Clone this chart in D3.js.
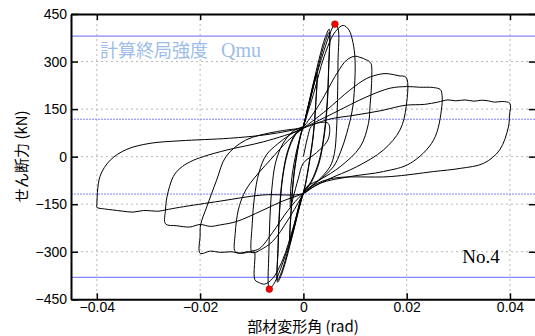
<!DOCTYPE html>
<html>
<head>
<meta charset="utf-8">
<script src="https://cdn.jsdelivr.net/npm/d3@7"></script>
<style>
  body { margin: 0; background: #fff; }
  .tick text { font-family: "Liberation Sans", Arial, sans-serif; font-size: 14px; fill: #000; }
</style>
</head>
<body>
<div id="chart"></div>
<script>
// tick values
var xTicks = [-0.04, -0.02, 0, 0.02, 0.04];
var yTicks = [-450, -300, -150, 0, 150, 300, 450];

// reference levels (kN)
var qmuLevels = [380, -381];
var dashLevels = [118, -118];

// max / min points [rad, kN]
var peakPoints = [[0.0061, 418], [-0.0066, -418]];

// hysteresis record, one array per cycle: [rad, kN]
var cycleInit = [[0, 0], [0.0008, 60], [0.0015, 95], [0.0025, 105], [0.0048, 105], [0.0048, 55], [0.0025, 12], [0, -20],
  [-0.001, -70], [-0.002, -130], [-0.0025, -160], [-0.0024, -90], [-0.0018, -20], [-0.001, 40], [0, 95]];

var cycle0025a = [[0, 95], [0.001, 165], [0.002, 235], [0.0026, 265], [0.0024, 170], [0.0019, 70], [0.0011, -20], [0.0004, -85],
  [0, -112], [-0.001, -175], [-0.002, -240], [-0.0026, -272], [-0.0024, -180], [-0.0019, -70], [-0.0011, 20], [-0.0004, 75], [0, 96]];
var cycle0025b = [[0, 96], [0.001, 160], [0.002, 228], [0.0026, 258], [0.0024, 165], [0.0019, 62], [0.0011, -25], [0.0004, -88],
  [0, -114], [-0.001, -170], [-0.002, -232], [-0.0026, -265], [-0.0024, -172], [-0.0019, -62], [-0.0011, 25], [-0.0004, 78], [0, 95]];

var cycle005a = [[0, 95], [0.0015, 200], [0.003, 305], [0.0042, 375], [0.005, 402], [0.0049, 290], [0.0046, 170], [0.004, 70],
  [0.003, -15], [0.0015, -78], [0, -114], [-0.0015, -205], [-0.003, -305], [-0.0042, -370], [-0.005, -396], [-0.0049, -290],
  [-0.0046, -170], [-0.004, -65], [-0.003, 15], [-0.0015, 70], [0, 93]];
var cycle005b = [[0, 93], [0.0015, 190], [0.003, 292], [0.0042, 362], [0.005, 392], [0.0049, 280], [0.0046, 160], [0.004, 62],
  [0.003, -22], [0.0015, -82], [0, -116], [-0.0015, -198], [-0.003, -296], [-0.0042, -362], [-0.005, -390], [-0.0049, -282],
  [-0.0046, -160], [-0.004, -58], [-0.003, 20], [-0.0015, 74], [0, 94]];

var cycle0067 = [[0, 94], [0.002, 225], [0.004, 335], [0.0053, 395], [0.0061, 418], [0.0067, 405], [0.0067, 300], [0.0066, 180],
  [0.0064, 80], [0.006, 10], [0.0052, -30], [0.0035, -65], [0.0015, -95], [0, -116], [-0.002, -235], [-0.004, -335],
  [-0.0055, -395], [-0.0066, -418], [-0.0068, -405], [-0.0067, -310], [-0.0065, -200], [-0.0061, -100], [-0.0054, -20],
  [-0.004, 40], [-0.002, 80], [0, 95]];

var cycle010 = [[0, 95], [0.002, 200], [0.004, 315], [0.006, 390], [0.0077, 414], [0.0088, 400], [0.0096, 360], [0.01, 305],
  [0.0099, 220], [0.0095, 150], [0.0084, 74], [0.0072, 15], [0.0058, -32], [0.003, -75], [0.0013, -95], [0, -116],
  [-0.002, -225], [-0.004, -325], [-0.006, -385], [-0.0075, -402], [-0.0085, -398], [-0.0094, -388], [-0.0095, -300],
  [-0.01, -302], [-0.0099, -210], [-0.0095, -130], [-0.0086, -50], [-0.0072, 5], [-0.005, 40], [-0.0025, 70], [0, 92]];

var cycle0133 = [[0, 92], [0.0032, 168], [0.0065, 263], [0.0084, 305], [0.01, 317], [0.0108, 314], [0.0116, 310], [0.0122, 305],
  [0.0126, 303], [0.0128, 298], [0.0131, 294], [0.0132, 231], [0.0129, 160], [0.0126, 105], [0.011, 31], [0.0071, -32],
  [0.0035, -70], [0.00065, -95], [0, -116], [-0.003, -200], [-0.006, -268], [-0.0085, -296], [-0.0095, -303], [-0.011, -300],
  [-0.012, -304], [-0.0132, -300], [-0.0132, -242], [-0.0126, -168], [-0.0116, -120], [-0.0103, -84], [-0.0064, -10],
  [-0.003, 50], [0, 90]];

var cycle020 = [[0, 90], [0.0045, 147], [0.009, 210], [0.0123, 247], [0.0148, 260], [0.016, 262], [0.0174, 259], [0.0185, 255],
  [0.0199, 250], [0.0199, 158], [0.0187, 84], [0.0155, 21], [0.0103, -32], [0.0045, -74], [0, -116], [-0.003, -170],
  [-0.006, -240], [-0.0085, -290], [-0.01, -298], [-0.012, -305], [-0.014, -300], [-0.016, -302], [-0.018, -298], [-0.02, -305],
  [-0.02, -250], [-0.0199, -215], [-0.0187, -158], [-0.0168, -74], [-0.015, 0], [-0.0112, 52], [-0.0052, 79], [0, 90]];

var cycle0267 = [[0, 90], [0.0058, 137], [0.0123, 189], [0.0168, 216], [0.02, 221], [0.0225, 219], [0.0252, 218], [0.0265, 212],
  [0.0268, 200], [0.0268, 158], [0.0252, 52], [0.0207, -21], [0.0155, -47], [0.009, -63], [0.0032, -84], [0, -116],
  [-0.004, -140], [-0.008, -170], [-0.013, -205], [-0.016, -215], [-0.018, -220], [-0.02, -214], [-0.022, -222], [-0.0245, -218],
  [-0.0267, -212], [-0.0267, -168], [-0.0264, -126], [-0.0252, -63], [-0.0239, -37], [-0.0219, -16], [-0.0194, 0],
  [-0.0148, 21], [-0.0077, 47], [-0.0006, 84], [0, 90]];

var cycle040 = [[0, 90], [0.005, 118], [0.01, 131], [0.015, 145], [0.0197, 162], [0.0235, 165], [0.026, 172], [0.028, 179],
  [0.0295, 176], [0.0313, 179], [0.033, 175], [0.0345, 178], [0.0358, 176], [0.037, 172], [0.0385, 174], [0.04, 168],
  [0.0399, 130], [0.0397, 94], [0.038, 21], [0.0349, -21], [0.0304, -37], [0.0252, -47], [0.0168, -63], [0.0058, -68],
  [0.002, -90], [0, -116], [-0.008, -121], [-0.016, -140], [-0.024, -160], [-0.0267, -168], [-0.028, -172], [-0.031, -170],
  [-0.033, -175], [-0.035, -172], [-0.037, -168], [-0.0385, -165], [-0.04, -160], [-0.04, -153], [-0.0394, -63],
  [-0.0374, -11], [-0.0342, 23], [-0.0297, 42], [-0.0239, 50], [-0.0143, 58], [-0.0078, 68], [-0.0026, 82], [0, 92]];

var cycles = [cycleInit, cycle0025a, cycle0025b, cycle005a, cycle005b, cycle0067, cycle010, cycle0133, cycle020, cycle0267, cycle040];

var width = 535, height = 336;

var svg = d3.select("#chart").append("svg")
  .attr("width", width)
  .attr("height", height);

var xScale = d3.scaleLinear().domain([-0.045, 0.045]).range([71, 535.8]);
var yScale = d3.scaleLinear().domain([-450, 450]).range([299.3, 14]);

var x0 = xScale.range()[0], x1 = xScale.range()[1];
var y0 = yScale.range()[1], y1 = yScale.range()[0];

svg.append("defs").append("clipPath").attr("id", "plotclip")
  .append("rect").attr("x", x0).attr("y", y0).attr("width", x1 - x0).attr("height", y1 - y0);

// grid
var grid = svg.append("g").attr("class", "grid");
grid.selectAll(".gx").data(xTicks).enter().append("line")
  .attr("x1", function(d) { return xScale(d); }).attr("x2", function(d) { return xScale(d); })
  .attr("y1", y0).attr("y2", y1)
  .attr("stroke", "#b8b8b8").attr("stroke-width", 1).attr("stroke-dasharray", "2,3");
grid.selectAll(".gy").data(yTicks.slice(1, -1)).enter().append("line")
  .attr("x1", x0).attr("x2", x1)
  .attr("y1", function(d) { return yScale(d); }).attr("y2", function(d) { return yScale(d); })
  .attr("stroke", "#b8b8b8").attr("stroke-width", 1).attr("stroke-dasharray", "2,3");

// reference lines
svg.selectAll(".qmu").data(qmuLevels).enter().append("line")
  .attr("x1", x0).attr("x2", x1)
  .attr("y1", function(d) { return yScale(d); }).attr("y2", function(d) { return yScale(d); })
  .attr("stroke", "#8686ff").attr("stroke-width", 1.3);
svg.selectAll(".qdash").data(dashLevels).enter().append("line")
  .attr("x1", x0).attr("x2", x1)
  .attr("y1", function(d) { return yScale(d); }).attr("y2", function(d) { return yScale(d); })
  .attr("stroke", "#8080ff").attr("stroke-width", 1).attr("stroke-dasharray", "2,1");

var qText = svg.append("text")
  .attr("x", 100).attr("y", 57)
  .attr("fill", "#9dbde8");
qText.append("tspan")
  .style("font-family", "'Noto Sans CJK JP', sans-serif")
  .style("font-size", "18px")
  .text("計算終局強度");
qText.append("tspan")
  .attr("x", 221)
  .style("font-family", "'Liberation Serif', serif")
  .style("font-size", "20px")
  .text("Qmu");

// hysteresis curves
var line = d3.line()
  .curve(d3.curveCatmullRom.alpha(0.5))
  .x(function(d) { return xScale(d[0]); })
  .y(function(d) { return yScale(d[1]); });

svg.append("g").attr("clip-path", "url(#plotclip)")
  .selectAll(".cycle").data(cycles).enter().append("path")
  .attr("class", "cycle")
  .attr("d", line)
  .attr("fill", "none")
  .attr("stroke", "#000")
  .attr("stroke-width", 1)
  .attr("stroke-linejoin", "round");

svg.selectAll(".peak").data(peakPoints).enter().append("circle")
  .attr("cx", function(d) { return xScale(d[0]); })
  .attr("cy", function(d) { return yScale(d[1]); })
  .attr("r", 3.3)
  .attr("fill", "#f00")
  .attr("stroke", "#900")
  .attr("stroke-width", 0.6);

// axes, ticks inward
var fmtX = function(d) { return d === 0 ? "0" : (d < 0 ? "\u2212" : "") + Math.abs(d).toFixed(2); };
var fmtY = function(d) { return d < 0 ? "\u2212" + Math.abs(d) : "" + d; };

var gxb = svg.append("g").attr("transform", "translate(0," + y1 + ")")
  .call(d3.axisBottom(xScale).tickValues(xTicks).tickFormat(fmtX).tickSize(-6).tickSizeOuter(0).tickPadding(3));
var gxt = svg.append("g").attr("transform", "translate(0," + y0 + ")")
  .call(d3.axisTop(xScale).tickValues(xTicks).tickFormat("").tickSize(-6).tickSizeOuter(0));
var gyl = svg.append("g").attr("transform", "translate(" + x0 + ",0)")
  .call(d3.axisLeft(yScale).tickValues(yTicks).tickFormat(fmtY).tickSize(-7).tickSizeOuter(0).tickPadding(4));
var gyr = svg.append("g").attr("transform", "translate(" + x1 + ",0)")
  .call(d3.axisRight(yScale).tickValues(yTicks).tickFormat("").tickSize(-7).tickSizeOuter(0));

[gxb, gxt, gyl, gyr].forEach(function(g) {
  g.selectAll(".tick line").attr("stroke", "#000").attr("stroke-width", 1.5);
  g.select(".domain").attr("stroke", "#000").attr("stroke-width", 2);
});
gxb.selectAll("text").attr("font-size", null);
gyl.selectAll("text").attr("font-size", null);

// labels
svg.append("text")
  .attr("x", 481).attr("y", 263)
  .attr("text-anchor", "middle")
  .style("font-family", "'Liberation Serif', serif")
  .style("font-size", "19px")
  .text("No.4");

svg.append("text")
  .attr("transform", "translate(27," + yScale(0) + ") rotate(-90)")
  .attr("text-anchor", "middle")
  .style("font-family", "'Noto Sans CJK JP', sans-serif")
  .style("font-size", "15px")
  .text("せん断力 (kN)");

svg.append("text")
  .attr("x", 303).attr("y", 331.5)
  .attr("text-anchor", "middle")
  .style("font-family", "'Noto Sans CJK JP', sans-serif")
  .style("font-size", "15px")
  .text("部材変形角 (rad)");
</script>
</body>
</html>
